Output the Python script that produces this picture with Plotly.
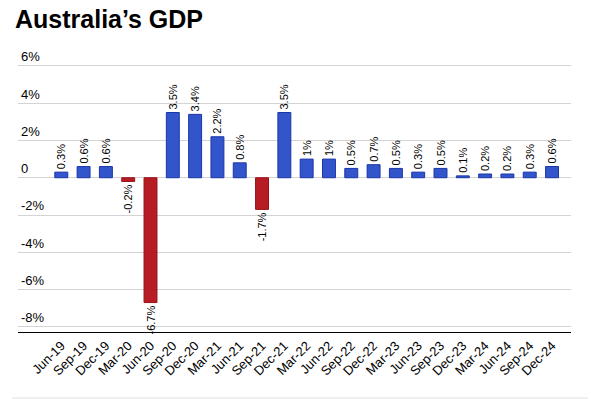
import plotly.graph_objects as go

quarters = ["Jun-19", "Sep-19", "Dec-19", "Mar-20", "Jun-20", "Sep-20", "Dec-20",
            "Mar-21", "Jun-21", "Sep-21", "Dec-21", "Mar-22", "Jun-22", "Sep-22",
            "Dec-22", "Mar-23", "Jun-23", "Sep-23", "Dec-23", "Mar-24", "Jun-24",
            "Sep-24", "Dec-24"]
gdp_growth = [0.3, 0.6, 0.6, -0.2, -6.7, 3.5, 3.4, 2.2, 0.8, -1.7, 3.5, 1, 1, 0.5,
              0.7, 0.5, 0.3, 0.5, 0.1, 0.2, 0.2, 0.3, 0.6]
y_tick_vals = [-8, -6, -4, -2, 0, 2, 4, 6]
y_tick_text = ["-8%", "-6%", "-4%", "-2%", "0", "2%", "4%", "6%"]

labels = [f"{v:g}%" for v in gdp_growth]
fill = ["#3355cc" if v >= 0 else "#b71c24" for v in gdp_growth]
edge = ["#1a35a6" if v >= 0 else "#961218" for v in gdp_growth]

FONT = "Arial, Liberation Sans, sans-serif"

fig = go.Figure(go.Bar(
    x=quarters, y=gdp_growth,
    marker=dict(color=fill, line=dict(color=edge, width=1)),
    width=0.58,
    text=labels, textposition="outside", textangle=-90,
    textfont=dict(family=FONT, size=11, color="#000000"),
    constraintext="none", cliponaxis=False,
))

fig.update_layout(
    width=591, height=399,
    margin=dict(l=18, r=20, t=38, b=67, autoexpand=False),
    paper_bgcolor="white", plot_bgcolor="white",
    font=dict(family=FONT, color="#000000"),
    showlegend=False,
    title=dict(text="<b>Australia’s GDP</b>", x=15/591, xanchor="left",
               y=1-19/399, yanchor="middle", yref="container",
               font=dict(family=FONT, size=25, color="#000000")),
    xaxis=dict(type="category", range=[-1.94, 22.85], tickangle=-45,
               tickfont=dict(family=FONT, size=13, color="#000000"),
               showline=True, linecolor="#000000", linewidth=1,
               showgrid=False, ticks="", automargin=False),
    yaxis=dict(range=[-8.28, 7.5], tickvals=y_tick_vals, ticktext=y_tick_text,
               ticklabelposition="inside top",
               tickfont=dict(family=FONT, size=13, color="#000000"),
               showgrid=True, gridcolor="#d4d4d4", gridwidth=1,
               zeroline=False, ticks="", automargin=False),
    shapes=[dict(type="line", xref="paper", yref="paper",
                 x0=-6/553, x1=1 + 17/553, y0=-66/294, y1=-66/294,
                 line=dict(color="#e0e0e0", width=1))],
)

fig.write_html("out.html", config={"displayModeBar": False},
               post_script="document.body.style.margin='0';document.body.style.padding='0';")
